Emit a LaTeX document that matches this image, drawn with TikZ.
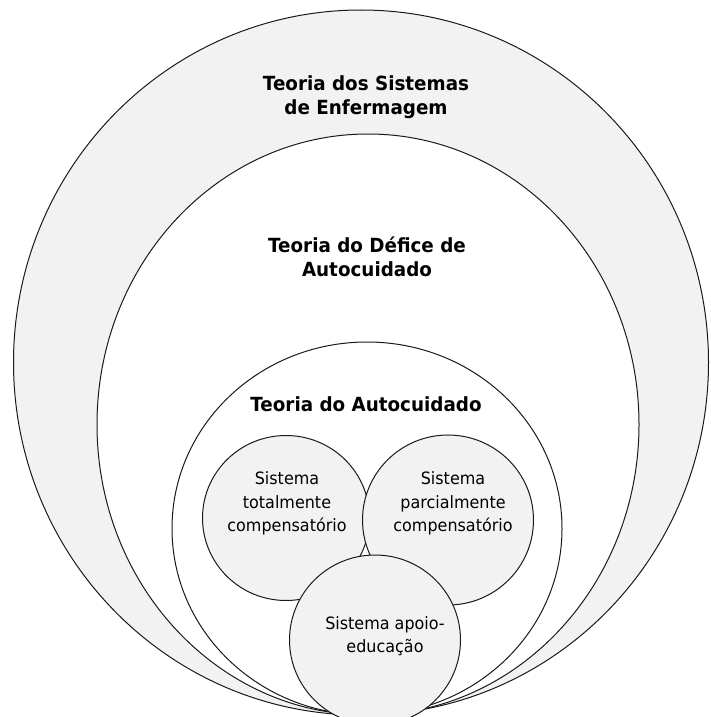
\documentclass[tikz,border=0pt]{standalone}
\usepackage{fontspec}
\setmainfont{DejaVu Sans}
\newfontfamily\narrowsans[FakeStretch=0.94]{DejaVu Sans}
\usetikzlibrary{shapes.geometric}
\definecolor{fillgray}{HTML}{F2F2F2}
\definecolor{linegray}{HTML}{1A1A1A}
\begin{document}
\begin{tikzpicture}[x=1pt,y=-1pt,
  ring/.style={ellipse, draw=linegray, line width=1pt, inner sep=0pt, outer sep=0pt},
  titletext/.style={font=\narrowsans\fontsize{19.5}{24}\selectfont\bfseries, align=center, inner sep=0pt},
  systext/.style={font=\narrowsans\fontsize{17}{23.5}\selectfont, align=center, inner sep=0pt}]
\useasboundingbox[fill=white] (0,0) rectangle (710,717);
\node[ring, fill=fillgray, minimum width=695pt, minimum height=705pt] (outer) at (361,362.5) {};
\node[ring, fill=white, minimum width=542pt, minimum height=581pt] (middle) at (368,424.5) {};
\node[ring, fill=white, minimum width=390pt, minimum height=373pt] (inner) at (367,528.5) {};
\node[ring, fill=fillgray, minimum width=167pt, minimum height=165pt] (left) at (286,518) {};
\node[ring, fill=fillgray, minimum width=171pt, minimum height=170pt] (right) at (448,520) {};
\node[ring, fill=fillgray, minimum width=171pt, minimum height=170pt] (bottom) at (375,640) {};
\node[titletext] (t1) at (366,97) {Teoria dos Sistemas\\de Enfermagem};
\node[titletext] (t2) at (367,257) {Teoria do Défice de\\Autocuidado};
\node[titletext] (t3) at (366,404) {Teoria do Autocuidado};
\node[systext] (s1) at (287,503.5) {Sistema\\totalmente\\compensatório};
\node[systext] (s2) at (453,503.5) {Sistema\\parcialmente\\compensatório};
\node[systext] (s3) at (385,636) {Sistema apoio-\\educação};
\end{tikzpicture}
\end{document}
